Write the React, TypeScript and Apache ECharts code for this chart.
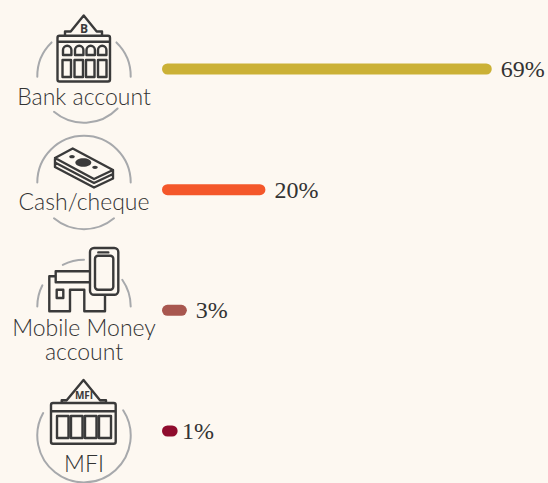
import React, { useEffect, useRef } from "react";
import * as echarts from "echarts";

const categories = ["Bank account", "Cash/cheque", "Mobile Money account", "MFI"];
const values = [69, 20, 3, 1];
const barColors = ["#cbb136", "#f4572a", "#a8574f", "#8f0c2d"];
const ink = "#3a3a3a";
const ring = "#a7a9ac";
const rad = (d: number) => (d * Math.PI) / 180;

const iconBank =
  "M65 35V31.5H70.7L83.7 15.5L96.7 31.5H102V35 M59.5 35.7H108a2 2 0 0 1 2 2V79.5a2 2 0 0 1 -2 2H59.5a2 2 0 0 1 -2 -2V37.7a2 2 0 0 1 2 -2Z M57.5 41.7H110 " +
  "M63 55V50a3.7 3.7 0 0 1 8.4 0V55Z M75 55V50a3.7 3.7 0 0 1 8.4 0V55Z M86.5 55V50a3.7 3.7 0 0 1 8.4 0V55Z M98 55V50a3.7 3.7 0 0 1 8.4 0V55Z " +
  "M62.5 60H71V77H62.5Z M74.5 60H83V77H74.5Z M86 60H94.5V77H86Z M98 60H106.5V77H98Z";
const iconCash =
  "M55 158L72.7 148.5L113 170L94 179Z M55 158V162.5L94 183L113 174V170 M55 162.5V167L94 187.5L113 178.5V174";
const iconPhone =
  "M94 248H114.3a4 4 0 0 1 4 4V290.7a4 4 0 0 1 -4 4H94a4 4 0 0 1 -4 -4V252a4 4 0 0 1 4 -4Z M98 255.7H110.3a3 3 0 0 1 3 3V286.7a3 3 0 0 1 -3 3H98a3 3 0 0 1 -3 -3V258.7a3 3 0 0 1 3 -3Z M98.3 252.4H108.3 " +
  "M90 271.3H55.7V282.3H90 M55.7 276.3H49.3V311.3H70V289.7H84.3V311.3H105V294.7 M56.7 289.7H63.3V298H56.7Z";
const iconMfi =
  "M61.7 403V400.3H66.7L83.5 380L100 400.3H106V403 M53 403H113.7a2 2 0 0 1 2 2V441.7a2 2 0 0 1 -2 2H53a2 2 0 0 1 -2 -2V405a2 2 0 0 1 2 -2Z M51 411.3H115.7 " +
  "M57 416H68.5V438H57Z M71 416H82.5V438H71Z M85 416H96.5V438H85Z M99 416H111V438H99Z";

echarts.graphic.registerShape("iconBank", echarts.graphic.extendPath(iconBank, {}));
echarts.graphic.registerShape("iconCash", echarts.graphic.extendPath(iconCash, {}));
echarts.graphic.registerShape("iconPhone", echarts.graphic.extendPath(iconPhone, {}));
echarts.graphic.registerShape("iconMfi", echarts.graphic.extendPath(iconMfi, {}));

const arcs: [number, number, number][] = [
  [76, -46, 1], [76, 179, 226], [76, 44, 130],
  [182.5, 180, 360], [182.5, 50, 130],
  [306.5, 180, 207], [306.5, 243, 270], [306.5, -35, 0],
  [435.7, -33, 209],
];
const labelLines: [string, number][] = [
  ["Bank account", 96], ["Cash/cheque", 201], ["Mobile Money\naccount", 339], ["MFI", 463],
];

export default function App() {
  const ref = useRef<HTMLDivElement>(null);
  useEffect(() => {
    const chart = echarts.init(ref.current!, null, { renderer: "svg" });
    const iconStyle = { fill: "none", stroke: ink, lineWidth: 2.4, lineJoin: "round", lineCap: "round" };
    const graphic: any[] = [
      ...arcs.map(([cy, a, b]) => ({
        type: "arc",
        shape: { cx: 84, cy, r: 46.7, startAngle: rad(a), endAngle: rad(b), clockwise: true },
        style: { fill: "none", stroke: ring, lineWidth: 2, lineCap: "round" },
      })),
      ...["iconBank", "iconCash", "iconPhone", "iconMfi"].map((type) => ({ type, x: 0, y: 0, style: iconStyle })),
      { type: "ellipse", shape: { cx: 83.3, cy: 162.5, rx: 8, ry: 4.3 }, style: { fill: ink } },
      { type: "ellipse", shape: { cx: 72, cy: 156.7, rx: 2.8, ry: 1.6 }, style: { fill: ink } },
      { type: "ellipse", shape: { cx: 95, cy: 167.3, rx: 2.8, ry: 1.6 }, style: { fill: ink } },
      { type: "text", style: { text: "B", x: 84, y: 28, align: "center", verticalAlign: "middle", font: "bold 12px 'Open Sans'", fill: ink } },
      { type: "text", style: { text: "MFI", x: 84, y: 395, align: "center", verticalAlign: "middle", font: "bold 10px 'Open Sans'", fill: ink } },
      ...labelLines.map(([text, y]) => ({
        type: "text",
        style: { text, x: 84, y, align: "center", verticalAlign: "middle", font: "300 23px Lato", lineHeight: 24, fill: "#333333" },
      })),
    ];
    chart.setOption({
      animation: false,
      backgroundColor: "#fdf8f1",
      grid: { left: 167.5, width: 369.6, top: 69, height: 362 },
      xAxis: { type: "value", min: 0, max: 80, show: false },
      yAxis: { type: "category", inverse: true, boundaryGap: false, data: categories, show: false },
      graphic,
      series: [
        {
          type: "custom",
          clip: false,
          silent: true,
          encode: { x: 0, y: 1 },
          data: values.map((v, i) => [v, i]),
          renderItem: (params: any, api: any) => {
            const v = api.value(0);
            const i = api.value(1);
            const a = api.coord([0, i]);
            const b = api.coord([v, i]);
            return {
              type: "group",
              children: [
                {
                  type: "line",
                  shape: { x1: a[0], y1: a[1], x2: b[0], y2: b[1] },
                  style: { stroke: barColors[params.dataIndex], lineWidth: 11, lineCap: "round" },
                },
                {
                  type: "text",
                  style: {
                    text: `${v}%`,
                    x: b[0] + (v === 1 ? 10 : 14.5),
                    y: a[1],
                    align: "left",
                    verticalAlign: "middle",
                    font: "24px 'Liberation Serif'",
                    fill: "#333333",
                  },
                },
              ],
            };
          },
        },
      ],
    });
    return () => chart.dispose();
  }, []);
  return <div ref={ref} style={{ position: "fixed", left: 0, top: 0, width: 548, height: 483 }} />;
}
